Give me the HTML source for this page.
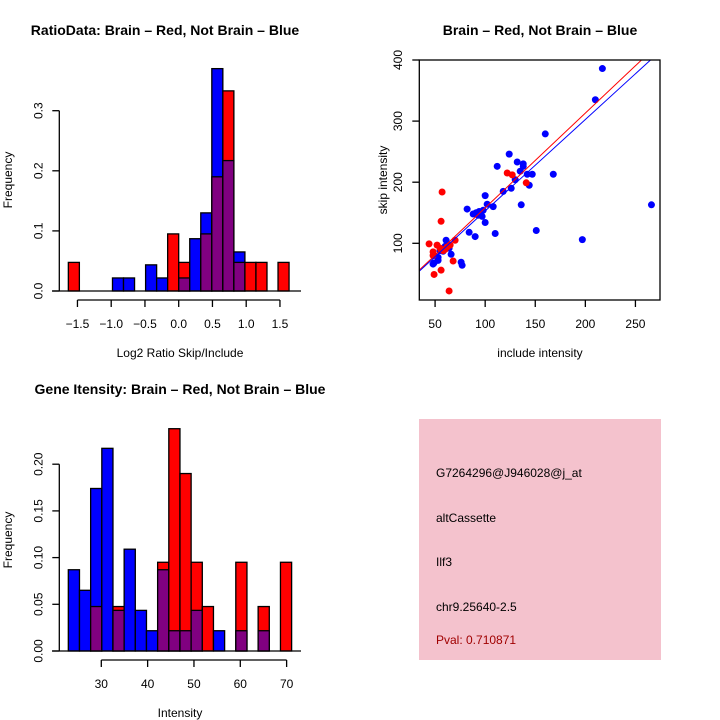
<!DOCTYPE html>
<html><head><meta charset="utf-8"><style>
html,body{margin:0;padding:0;background:#fff}
svg{display:block;font-family:"Liberation Sans",sans-serif}
</style></head><body>
<svg id="s" width="720" height="720" viewBox="0 0 720 720">
<rect x="0" y="0" width="720" height="720" fill="#fff"/>
<text x="165" y="35" font-size="14" font-weight="bold" text-anchor="middle">RatioData: Brain – Red, Not Brain – Blue</text>
<text x="540" y="35" font-size="14" font-weight="bold" text-anchor="middle">Brain – Red, Not Brain – Blue</text>
<text x="180" y="394" font-size="14" font-weight="bold" text-anchor="middle">Gene Itensity: Brain – Red, Not Brain – Blue</text>
<text x="180" y="357" font-size="12" text-anchor="middle">Log2 Ratio Skip/Include</text>
<text x="180" y="717" font-size="12" text-anchor="middle">Intensity</text>
<text x="540" y="357" font-size="12" text-anchor="middle">include intensity</text>
<text transform="translate(12,180) rotate(-90)" font-size="12" text-anchor="middle">Frequency</text>
<text transform="translate(12,540) rotate(-90)" font-size="12" text-anchor="middle">Frequency</text>
<text transform="translate(387,180) rotate(-90)" font-size="12" text-anchor="middle">skip intensity</text>
<g>
<rect x="419" y="419" width="242" height="241" fill="#f4c2cd"/>
<text x="436" y="477" font-size="12">G7264296@J946028@j_at</text>
<text x="436" y="522" font-size="12">altCassette</text>
<text x="436" y="566" font-size="12">Ilf3</text>
<text x="436" y="611" font-size="12">chr9.25640-2.5</text>
<text x="436" y="644" font-size="12" fill="#a00000">Pval: 0.710871</text>
</g>
</svg>
<script>
// Ratio histogram data
const ratioBinStart = -1.635;
const ratioBinWidth = 0.1635;
const ratioBlue = [0,0,0,0,0.0217,0.0217,0,0.0435,0.0217,0,0.0217,0.087,0.13,0.37,0.217,0.065,0,0,0,0];
const ratioRed  = [0.0476,0,0,0,0,0,0,0,0,0.095,0.0476,0,0.095,0.19,0.333,0.0476,0.0476,0.0476,0,0.0476];
const ratioXTicks = [-1.5,-1.0,-0.5,0.0,0.5,1.0,1.5];
const ratioXLabels = ["−1.5","−1.0","−0.5","0.0","0.5","1.0","1.5"];
const ratioYTicks = [0,0.1,0.2,0.3];
const ratioYLabels = ["0.0","0.1","0.2","0.3"];
// Intensity histogram data
const intBinStart = 22.88;
const intBinWidth = 2.41;
const intBlue = [0.087,0.065,0.174,0.217,0.0435,0.109,0.0435,0.0217,0.087,0.0217,0.0217,0.0435,0,0.0217,0,0.0217,0,0.0217,0,0];
const intRed  = [0,0,0.0476,0,0.0476,0,0,0,0.095,0.238,0.19,0.095,0.0476,0,0,0.095,0,0.0476,0,0.095];
const intXTicks = [30,40,50,60,70];
const intYTicks = [0,0.05,0.1,0.15,0.2];
const intYLabels = ["0.00","0.05","0.10","0.15","0.20"];
// Scatter data
const blueX = [217,210,160,124,112,132,138,138,135,142,147,168,144,130,126,118,100,102,108,136,82,88,91,94,97,93,98,100,110,151,197,266,84,90,61,64,58,53,53,49,49,66,76,77,48,55,60];
const blueY = [386,335,279,246,226,233,230,226,218,213,213,213,195,204,190,185,178,164,160,163,156,148,150,152,144,146,154,134,116,121,106,163,118,111,105,92,87,77,72,68,80,82,69,64,66,88,95];
const redX = [57,56,44,48,52,55,58,62,65,70,68,56,49,64,122,127,141,48,60];
const redY = [184,136,99,86,97,92,88,94,97,105,71,56,49,22,215,212,199,80,90];
const redFit = [3.1,1.55];
const blueFit = [3.2,1.497];
const scXTicks = [50,100,150,200,250];
const scYTicks = [100,200,300,400];

const svg = document.getElementById('s');
const NS = 'http://www.w3.org/2000/svg';
function mk(tag, attrs){const e=document.createElementNS(NS,tag);for(const k in attrs)e.setAttribute(k,attrs[k]);svg.appendChild(e);return e;}

function hist(prefix, bStart, bW, blue, red, xs, y0, yScale){
  for(let i=0;i<blue.length;i++){
    const b=blue[i], r=red[i];
    const x1=xs(bStart+i*bW), x2=xs(bStart+(i+1)*bW);
    const hi=Math.max(b,r), lo=Math.min(b,r);
    if(hi>0){
      const e=mk('rect',{x:x1,y:yScale(hi),width:x2-x1,height:y0-yScale(hi),fill:(b>=r?'#0000ff':'#ff0000'),stroke:'#000','stroke-width':1.3});
      
      
    }
    if(lo>0){
      const e=mk('rect',{x:x1,y:yScale(lo),width:x2-x1,height:y0-yScale(lo),fill:'#800080',stroke:'#000','stroke-width':1.3});
      
      
    }
  }
}
function yAxis(prefix, x, ticks, labels, ys){
  const a=mk('line',{x1:x,x2:x,y1:ys(ticks[0]),y2:ys(ticks[ticks.length-1]),stroke:'#000','stroke-width':1.3});
  
  
  ticks.forEach((t,i)=>{
    mk('line',{x1:x-7,x2:x,y1:ys(t),y2:ys(t),stroke:'#000','stroke-width':1.3});
    const l=mk('text',{transform:`translate(${x-17},${ys(t)}) rotate(-90)`,'font-size':12,'text-anchor':'middle'});
    l.textContent=labels[i];
    
    
  });
}
function xAxis(prefix, y, ticks, labels, xs){
  const a=mk('line',{x1:xs(ticks[0]),x2:xs(ticks[ticks.length-1]),y1:y,y2:y,stroke:'#000','stroke-width':1.3});
  
  
  ticks.forEach((t,i)=>{
    mk('line',{x1:xs(t),x2:xs(t),y1:y,y2:y+7,stroke:'#000','stroke-width':1.3});
    const l=mk('text',{x:xs(t),y:y+28,'font-size':12,'text-anchor':'middle'});
    l.textContent=labels[i];
    
    
  });
}

// Ratio histogram
{
  const xs=v=>178.7+v*67.5, ys=v=>291-v*601;
  hist('ratio', ratioBinStart, ratioBinWidth, ratioBlue, ratioRed, xs, 291, ys);
  const bl=mk('line',{x1:52,x2:301,y1:291,y2:291,stroke:'#000','stroke-width':1.3});
  
  
  yAxis('ratio', 59.3, ratioYTicks, ratioYLabels, ys);
  xAxis('ratio', 300, ratioXTicks, ratioXLabels, xs);
}
// Intensity histogram
{
  const xs=v=>101.3+(v-30)*4.633, ys=v=>651-v*934;
  hist('intensity', intBinStart, intBinWidth, intBlue, intRed, xs, 651, ys);
  const bl=mk('line',{x1:52,x2:301,y1:651,y2:651,stroke:'#000','stroke-width':1.3});
  
  
  yAxis('intensity', 59.3, intYTicks, intYLabels, ys);
  xAxis('intensity', 660, intXTicks, intXTicks.map(String), xs);
}
// Scatter
{
  const xs=v=>385+v*1.0017, ys=v=>304.4-v*0.611;
  const clip=mk('clipPath',{id:'c'});
  const cr=document.createElementNS(NS,'rect');
  cr.setAttribute('x',419.3);cr.setAttribute('y',60);cr.setAttribute('width',240.7);cr.setAttribute('height',240);
  clip.appendChild(cr);
  blueX.forEach((x,i)=>{
    const c=mk('circle',{cx:xs(x),cy:ys(blueY[i]),r:3.5,fill:'#0000ff'});
    
    
  });
  redX.forEach((x,i)=>{
    const c=mk('circle',{cx:xs(x),cy:ys(redY[i]),r:3.5,fill:'#ff0000'});
    
    
  });
  [[redFit,'#ff0000','red-fit-line'],[blueFit,'#0000ff','blue-fit-line']].forEach(([f,col,n])=>{
    const L=mk('line',{x1:xs(30),y1:ys(f[0]+f[1]*30),x2:xs(300),y2:ys(f[0]+f[1]*300),stroke:col,'stroke-width':1,'clip-path':'url(#c)'});
    
    
  });
  const box=mk('rect',{x:419.3,y:60,width:240.7,height:240,fill:'none',stroke:'#000','stroke-width':1.3});
  
  
  scYTicks.forEach(t=>{
    mk('line',{x1:412.3,x2:419.3,y1:ys(t),y2:ys(t),stroke:'#000','stroke-width':1.3});
    const l=mk('text',{transform:`translate(402,${ys(t)}) rotate(-90)`,'font-size':12,'text-anchor':'middle'});
    l.textContent=String(t);
    
    
  });
  scXTicks.forEach(t=>{
    mk('line',{x1:xs(t),x2:xs(t),y1:300,y2:307,stroke:'#000','stroke-width':1.3});
    const l=mk('text',{x:xs(t),y:328,'font-size':12,'text-anchor':'middle'});
    l.textContent=String(t);
    
    
  });
}
</script>
</body></html>
